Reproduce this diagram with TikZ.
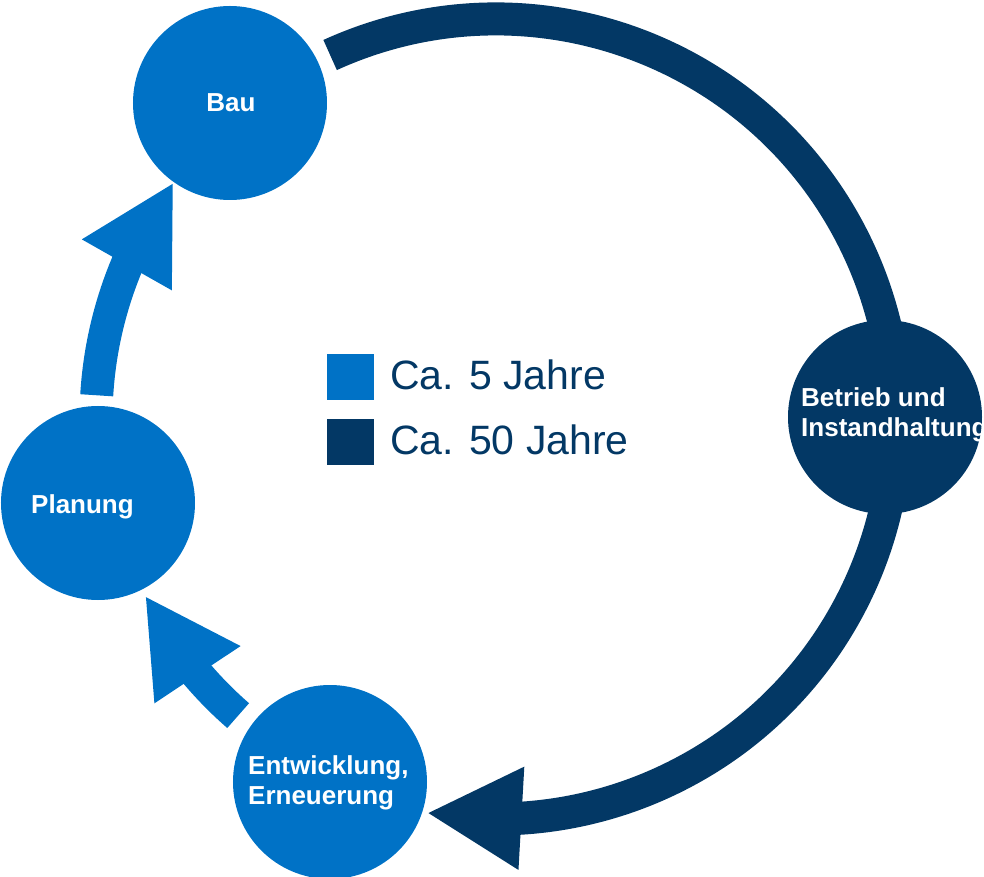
\documentclass[tikz,border=0pt]{standalone}
\usepackage{fontspec}
\setmainfont{Liberation Sans}
\usetikzlibrary{arrows.meta,bending}
\definecolor{hell}{RGB}{0,114,198}
\definecolor{dunkel}{RGB}{3,56,101}
\begin{document}
\begin{tikzpicture}[x=1pt,y=1pt,
	kreis/.style={circle,fill=hell,minimum size=194pt,inner sep=0pt},
	beschr/.style={text=white,inner sep=0pt,align=left,font=\fontsize{26}{30}\selectfont\bfseries},
	legende/.style={text=dunkel,inner sep=0pt,font=\fontsize{41}{48}\selectfont},
	feld/.style={minimum width=47pt,minimum height=46pt,inner sep=0pt},
	pfeil/.style={line width=33pt,hell,-{Triangle[width=96pt,length=95pt,flex]}}]
			\useasboundingbox (-496,-458) rectangle (488,419);
			\coordinate (s1) at (176.6:400);
			\coordinate (s2) at (229:393);
			\coordinate (s3) at (114.5:400);
			\draw[pfeil] (s1) arc[start angle=176.6,end angle=143.7,radius=400];
			\draw[pfeil] (s2) arc[start angle=229,end angle=206.7,radius=393];
			\draw[pfeil,dunkel] (s3) arc[start angle=114.5,end angle=-100,radius=400];
			\node[kreis] (bau) at (-266,316) {};
			\node[kreis] (planung) at (-398,-84) {};
			\node[kreis] (entw) at (-166,-363) {};
			\node[kreis,fill=dunkel] (betrieb) at (389,2) {};
			\node[beschr,anchor=base] (tbau) at (-265,307) {Bau};
			\node[beschr,anchor=base west] (tplanung) at (-465,-95) {Planung};
			\node[beschr,anchor=north west] (tentw) at (-248,-336) {Entwicklung,\\Erneuerung};
			\node[beschr,anchor=north west] (tbetrieb) at (305,32) {Betrieb und\\Instandhaltung};
			\node[feld,fill=hell] (fkurz) at (-145.5,42) {};
			\node[feld,fill=dunkel] (flang) at (-145.5,-23) {};
			\node[legende,anchor=base west] (lkurz) at (-106,29) {Ca. 5 Jahre};
			\node[legende,anchor=base west] (llang) at (-106,-36) {Ca. 50 Jahre};
		\end{tikzpicture}
\end{document}
